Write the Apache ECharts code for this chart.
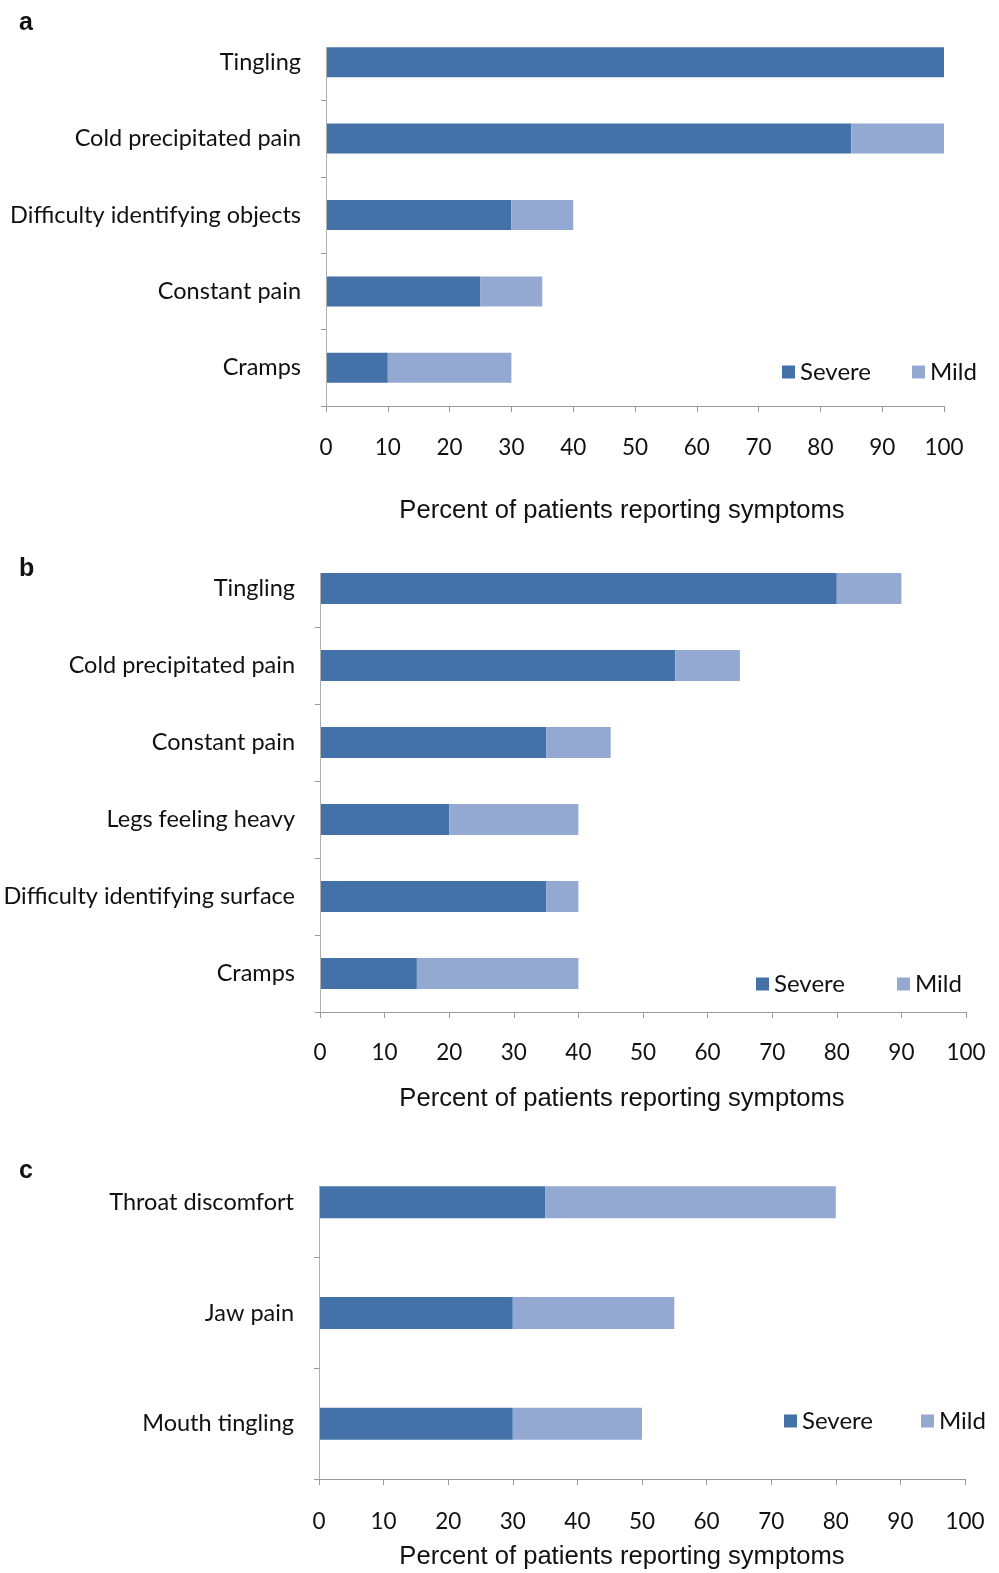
<!DOCTYPE html>
<html>
<head>
<meta charset="utf-8">
<script src="https://cdn.jsdelivr.net/npm/echarts@6/dist/echarts.min.js"></script>
<style>
  html, body { margin: 0; padding: 0; background: #fff; }
  #chart { width: 999px; height: 1573px; }
</style>
</head>
<body>
<div id="chart"></div>
<script>
// Panel a
const catsA = ['Tingling', 'Cold precipitated pain', 'Difficulty identifying objects', 'Constant pain', 'Cramps'];
const severeA = [100, 85, 30, 25, 10];
const mildA = [0, 15, 10, 10, 20];

// Panel b
const catsB = ['Tingling', 'Cold precipitated pain', 'Constant pain', 'Legs feeling heavy', 'Difficulty identifying surface', 'Cramps'];
const severeB = [80, 55, 35, 20, 35, 15];
const mildB = [10, 10, 10, 20, 5, 25];

// Panel c
const catsC = ['Throat discomfort', 'Jaw pain', 'Mouth tingling'];
const severeC = [35, 30, 30];
const mildC = [45, 25, 20];

const panelLetters = ['a', 'b', 'c'];
const seriesNames = ['Severe', 'Mild'];
const axisTitle = 'Percent of patients reporting symptoms';

const SEVERE = '#4472a8';
const MILD = '#93a9d1';
const CAL = 'Lato, "Open Sans", sans-serif';
const ARIAL = '"Liberation Sans", Arial, sans-serif';

const panels = [
  { cats: catsA, sev: severeA, mild: mildA,
    grid: { left: 326, top: 24, width: 618, height: 382 },
    barWidth: 30, labelMargin: 30, titleY: 511,
    legend: { left: 777, top: 355, itemGap: 41 }, letterTop: 6 },
  { cats: catsB, sev: severeB, mild: mildB,
    grid: { left: 320, top: 550, width: 646, height: 462 },
    barWidth: 31, labelMargin: 29, titleY: 1099,
    legend: { left: 751, top: 967, itemGap: 52 }, letterTop: 552 },
  { cats: catsC, sev: severeC, mild: mildC,
    grid: { left: 319, top: 1147, width: 646, height: 332 },
    barWidth: 32, labelMargin: 31, titleY: 1557,
    legend: { left: 779, top: 1404, itemGap: 48 }, letterTop: 1154 }
];

const option = {
  animation: false,
  backgroundColor: '#ffffff',
  title: panels.map((p, i) => ({
    text: panelLetters[i], left: 14, top: p.letterTop,
    textStyle: { fontFamily: ARIAL, fontWeight: 'bold', fontSize: 25, color: '#111' }
  })),
  legend: panels.map(p => ({
    data: seriesNames, left: p.legend.left, top: p.legend.top,
    orient: 'horizontal', itemGap: p.legend.itemGap,
    itemWidth: 13, itemHeight: 13, icon: 'rect',
    textStyle: { fontFamily: CAL, fontSize: 24, color: '#111' },
    selectedMode: false
  })),
  grid: panels.map(p => Object.assign({ containLabel: false }, p.grid)),
  xAxis: panels.map((p, i) => ({
    type: 'value', gridIndex: i, min: 0, max: 100, interval: 10,
    axisLine: { show: true, lineStyle: { color: '#9a9a9a', width: 1 } },
    axisTick: { show: true, length: 6, lineStyle: { color: '#9a9a9a' } },
    axisLabel: { margin: p.labelMargin, fontFamily: CAL, fontSize: 22.5, color: '#111' },
    splitLine: { show: false }
  })),
  yAxis: panels.map((p, i) => ({
    type: 'category', gridIndex: i, data: p.cats, inverse: true,
    axisLine: { show: false },
    axisTick: { show: true, length: 5, interval: (idx) => idx !== 0, lineStyle: { color: '#9a9a9a' } },
    axisLabel: { margin: 25, fontFamily: CAL, fontSize: 23.5, color: '#111' }
  })),
  graphic: panels.map((p, i) => ({
    id: 'xtitle' + i, type: 'text', x: 622, y: p.titleY,
    style: { text: axisTitle, font: '25.6px ' + ARIAL, fill: '#111',
             textAlign: 'center', textVerticalAlign: 'middle' }
  })),
  series: panels.flatMap((p, i) => [
    { name: 'Severe', type: 'bar', stack: 'p' + i, xAxisIndex: i, yAxisIndex: i,
      data: p.sev, barWidth: p.barWidth, itemStyle: { color: SEVERE } },
    { name: 'Mild', type: 'bar', stack: 'p' + i, xAxisIndex: i, yAxisIndex: i,
      data: p.mild, barWidth: p.barWidth, itemStyle: { color: MILD } }
  ])
};

const chart = echarts.init(document.getElementById('chart'), null, { renderer: 'canvas' });
chart.setOption(option);

// Vertical category axis line: runs from the top edge of the first bar down to the value axis.
const axisLines = panels.map((p, i) => {
  const x = chart.convertToPixel({ xAxisIndex: i }, 0);
  const yTop = chart.convertToPixel({ yAxisIndex: i }, p.cats[0]) - p.barWidth / 2;
  const yBottom = p.grid.top + p.grid.height;
  return {
    id: 'yline' + i, type: 'line', z: 5,
    shape: { x1: x + 0.5, y1: yTop, x2: x + 0.5, y2: yBottom },
    style: { stroke: '#b0b0b0', lineWidth: 1 }
  };
});
chart.setOption({ graphic: axisLines });
</script>
</body>
</html>
